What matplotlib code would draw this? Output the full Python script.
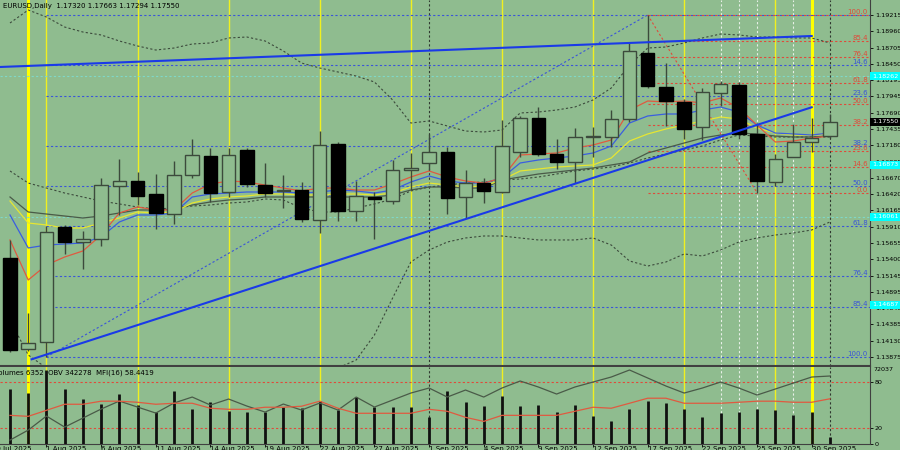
import matplotlib
matplotlib.use('Agg')
import matplotlib.pyplot as plt
import matplotlib.transforms as mtransforms

# EURUSD daily, 30 Jul 2025 .. 1 Oct 2025
opens = [1.15421, 1.14000, 1.14109, 1.15905, 1.15670, 1.15717, 1.16550, 1.16618, 1.16415, 1.16103,
         1.16717, 1.17018, 1.16446, 1.17102, 1.16560, 1.16459, 1.16482, 1.16014, 1.17205, 1.16150,
         1.16378, 1.16306, 1.16795, 1.16909, 1.17076, 1.16368, 1.16587, 1.16456, 1.17080, 1.17602,
         1.17045, 1.16924, 1.17310, 1.17315, 1.17586, 1.18626, 1.18095, 1.17861, 1.17471, 1.18002,
         1.18122, 1.17357, 1.16612, 1.17002, 1.17237, 1.17320]
highs = [1.15702, 1.14562, 1.15920, 1.15936, 1.15842, 1.16670, 1.16966, 1.16763, 1.16732, 1.16940,
         1.17279, 1.17138, 1.17138, 1.17143, 1.16909, 1.16717, 1.16607, 1.17408, 1.17237, 1.16628,
         1.16456, 1.16951, 1.17065, 1.17357, 1.17159, 1.16795, 1.16670, 1.17575, 1.17638, 1.17774,
         1.17279, 1.17446, 1.17471, 1.17732, 1.18778, 1.19215, 1.18470, 1.17903, 1.18075, 1.18184,
         1.18173, 1.17524, 1.17045, 1.17513, 1.17602, 1.17663]
lows = [1.13953, 1.13968, 1.13875, 1.15483, 1.15249, 1.15608, 1.16092, 1.16248, 1.15873, 1.15951,
        1.16670, 1.16295, 1.16373, 1.16529, 1.16373, 1.16201, 1.15987, 1.15811, 1.16003, 1.16003,
        1.15713, 1.16264, 1.16482, 1.16795, 1.16108, 1.16045, 1.16279, 1.16440, 1.17002, 1.17013,
        1.16806, 1.16587, 1.17002, 1.17159, 1.17549, 1.18070, 1.17482, 1.17274, 1.17263, 1.17794,
        1.17274, 1.16440, 1.16545, 1.16995, 1.17080, 1.17294]
closes = [1.13984, 1.14093, 1.15827, 1.15670, 1.15717, 1.16560, 1.16618, 1.16389, 1.16119, 1.16717,
          1.17029, 1.16440, 1.17024, 1.16576, 1.16436, 1.16482, 1.16025, 1.17180, 1.16150, 1.16384,
          1.16347, 1.16799, 1.16831, 1.17076, 1.16362, 1.16592, 1.16462, 1.17169, 1.17602, 1.17045,
          1.16920, 1.17305, 1.17318, 1.17586, 1.18658, 1.18106, 1.17872, 1.17430, 1.18008, 1.18133,
          1.17357, 1.16623, 1.16966, 1.17237, 1.17299, 1.17550]

# moving averages
ma_red = [1.15702, 1.15077, 1.15311, 1.15436, 1.15530, 1.15779, 1.16123, 1.16217, 1.16170, 1.16170,
          1.16435, 1.16576, 1.16623, 1.16607, 1.16560, 1.16513, 1.16467, 1.16513, 1.16513, 1.16482,
          1.16482, 1.16576, 1.16685, 1.16779, 1.16685, 1.16623, 1.16591, 1.16670, 1.17029, 1.17044,
          1.17060, 1.17138, 1.17185, 1.17263, 1.17731, 1.17872, 1.17856, 1.17872, 1.17841, 1.17919,
          1.17763, 1.17497, 1.17232, 1.17247, 1.17294, 1.17325]
ma_blue = [1.16092, 1.15577, 1.15623, 1.15639, 1.15655, 1.15748, 1.15983, 1.16092, 1.16092, 1.16123,
           1.16373, 1.16420, 1.16435, 1.16451, 1.16451, 1.16451, 1.16435, 1.16451, 1.16482, 1.16467,
           1.16435, 1.16482, 1.16607, 1.16701, 1.16623, 1.16591, 1.16591, 1.16670, 1.16904, 1.16951,
           1.16982, 1.17013, 1.17060, 1.17169, 1.17528, 1.17638, 1.17669, 1.17669, 1.17731, 1.17778,
           1.17700, 1.17497, 1.17372, 1.17357, 1.17341, 1.17372]
ma_yellow = [1.16310, 1.15967, 1.15936, 1.15889, 1.15889, 1.15967, 1.16045, 1.16139, 1.16123, 1.16139,
             1.16279, 1.16342, 1.16373, 1.16389, 1.16420, 1.16420, 1.16404, 1.16404, 1.16420, 1.16420,
             1.16404, 1.16435, 1.16529, 1.16591, 1.16560, 1.16529, 1.16545, 1.16638, 1.16779, 1.16810,
             1.16841, 1.16857, 1.16873, 1.16982, 1.17247, 1.17357, 1.17435, 1.17497, 1.17560, 1.17622,
             1.17591, 1.17450, 1.17372, 1.17341, 1.17341, 1.17357]
ma_grey = [1.16373, 1.16139, 1.16107, 1.16076, 1.16045, 1.16076, 1.16123, 1.16170, 1.16170, 1.16186,
           1.16248, 1.16295, 1.16326, 1.16342, 1.16373, 1.16373, 1.16373, 1.16373, 1.16373, 1.16373,
           1.16373, 1.16404, 1.16482, 1.16529, 1.16529, 1.16513, 1.16513, 1.16638, 1.16685, 1.16732,
           1.16763, 1.16795, 1.16826, 1.16873, 1.16919, 1.17060, 1.17138, 1.17216, 1.17294, 1.17341,
           1.17372, 1.17357, 1.17325, 1.17310, 1.17310, 1.17325]

# bollinger bands
bb_upper = [1.19090, 1.19293, 1.19183, 1.19027, 1.18949, 1.18903, 1.18809, 1.18731, 1.18668, 1.18699,
            1.18762, 1.18778, 1.18856, 1.18871, 1.18809, 1.18653, 1.18465, 1.18387, 1.18325, 1.18262,
            1.18169, 1.17888, 1.17528, 1.17560, 1.17482, 1.17403, 1.17388, 1.17419, 1.17685, 1.17700,
            1.17731, 1.17778, 1.17888, 1.18075, 1.18434, 1.18699, 1.18715, 1.18778, 1.18856, 1.18918,
            1.18903, 1.18871, 1.18871, 1.18856, 1.18856, 1.18778]
bb_middle = [1.16779, 1.16591, 1.16513, 1.16435, 1.16373, 1.16310, 1.16264, 1.16217, 1.16186, 1.16201,
             1.16232, 1.16248, 1.16279, 1.16295, 1.16342, 1.16326, 1.16201, 1.16139, 1.16139, 1.16201,
             1.16264, 1.16342, 1.16467, 1.16529, 1.16560, 1.16591, 1.16607, 1.16638, 1.16654, 1.16685,
             1.16732, 1.16779, 1.16810, 1.16841, 1.16904, 1.16982, 1.17044, 1.17107, 1.17169, 1.17263,
             1.17341, 1.17325, 1.17310, 1.17310, 1.17310, 1.17310]
bb_lower = [1.14452, 1.13906, 1.13703, 1.13671, 1.13640, 1.13609, 1.13593, 1.13578, 1.13562, 1.13562,
            1.13578, 1.13593, 1.13609, 1.13624, 1.13640, 1.13640, 1.13640, 1.13671, 1.13703, 1.13828,
            1.14218, 1.14796, 1.15358, 1.15545, 1.15670, 1.15733, 1.15764, 1.15764, 1.15733, 1.15702,
            1.15702, 1.15702, 1.15733, 1.15623, 1.15374, 1.15295, 1.15358, 1.15483, 1.15452, 1.15545,
            1.15670, 1.15733, 1.15779, 1.15811, 1.15858, 1.15983]

# lower window: volumes, OBV, MFI(16)
volumes = [53287, 49340, 72037, 53287, 43419, 38485, 48353, 37498, 30591, 51314,
           33551, 40459, 31578, 30591, 30591, 35525, 34538, 41446, 32564, 45393,
           35525, 35525, 35525, 25657, 51314, 40459, 36512, 46380, 36512, 37498,
           30591, 37498, 26644, 21710, 33551, 41446, 39472, 33551, 25657, 29604,
           30591, 33551, 32564, 27630, 30591, 6352]
obv = [15878, 66878, 138278, 82178, 128078, 173978, 214778, 184178, 153578, 204578,
       235178, 194378, 224978, 189278, 158678, 199478, 168878, 204578, 168878, 235178,
       184178, 219878, 255578, 281078, 235178, 270878, 235178, 281078, 316778, 286178,
       250478, 286178, 311678, 337178, 372878, 332078, 291278, 255578, 281078, 311678,
       281078, 245378, 275978, 306578, 337178, 342278]
mfi = [36.8, 35.5, 43.4, 51.3, 51.3, 55.3, 55.3, 53.9, 51.3, 52.6,
       52.6, 46.1, 44.7, 44.7, 47.4, 47.4, 48.7, 55.3, 46.1, 39.5,
       39.5, 39.5, 39.5, 44.7, 42.1, 34.2, 28.9, 36.8, 36.8, 36.8,
       36.8, 42.1, 47.4, 46.1, 52.6, 59.2, 59.2, 52.6, 52.6, 52.6,
       53.9, 55.3, 55.3, 53.9, 53.9, 58.4419]

# x-axis date labels (bar index -> text)
date_idx = [-1, 2, 5, 8, 11, 14, 17, 20, 23, 26, 29, 32, 35, 38, 41, 44]
date_text = ['29 Jul 2025', '1 Aug 2025', '6 Aug 2025', '11 Aug 2025', '14 Aug 2025', '19 Aug 2025',
             '22 Aug 2025', '27 Aug 2025', '1 Sep 2025', '4 Sep 2025', '9 Sep 2025', '12 Sep 2025',
             '17 Sep 2025', '22 Sep 2025', '25 Sep 2025', '30 Sep 2025']
price_ticks = [1.19215, 1.18960, 1.18705, 1.18450, 1.18195, 1.17945, 1.17690, 1.17435, 1.17180, 1.16925,
               1.16670, 1.16420, 1.16165, 1.15910, 1.15655, 1.15400, 1.15145, 1.14895, 1.14640, 1.14385,
               1.14130, 1.13875]

# objects on the chart
fib_levels = [0.0, 14.6, 23.6, 38.2, 50.0, 61.8, 76.4, 85.4, 100.0]
blue_fib = (2, 1.13875, 35, 1.19215)      # (start bar, low, end bar, high)
red_fib = (35, 1.19215, 41, 1.16440)      # (start bar, high, end bar, low)
upper_trend = (-0.55, 1.18403, 44.0, 1.18887)
lower_trend = (1.19, 1.13839, 44.0, 1.17774)
cyan_levels = [1.18262, 1.16873, 1.16061, 1.14687]
cyan_lines = [1.18262, 1.16061]
yellow_thick = [1, 44]
yellow_thin = [2, 7, 12, 17, 22, 27, 32, 37, 42]
white_dotted = [39, 40, 41, 43]
black_dotted = [23, 45]

BG = '#8fbc8f'
EDGE = '#3c4a3c'
RED = '#e04a3a'
BLUE = '#3a55d8'
DOT = (0, (2, 2))
FS = 5       # chart texts
AFS = 4.6    # price scale

fig = plt.figure(figsize=(9, 4.5), dpi=100, facecolor=BG)
ax = fig.add_axes([0, 84 / 450, 870 / 900, 366 / 450], facecolor=BG)
ax2 = fig.add_axes([0, 6.5 / 450, 870 / 900, 76.5 / 450], facecolor=BG, sharex=ax)

n = len(closes)
xs = list(range(n))
x_lo, x_hi = -0.549, 47.2
ax.set_xlim(x_lo, x_hi)
ax.set_ylim(1.13734, 1.19449)

for a in (ax, ax2):
    for i in yellow_thick:
        a.axvline(i, color='#ffff00', lw=2.2, zorder=1)
    for i in yellow_thin:
        a.axvline(i, color='#f0f020', lw=1.0, zorder=1)
    for i in white_dotted:
        a.axvline(i, color='#e8f0e8', lw=0.8, ls=DOT, zorder=1)
    for i in black_dotted:
        a.axvline(i, color='#303830', lw=0.8, ls=DOT, zorder=1)

# fibonacci levels
b0, b_lo, b1, b_hi = blue_fib
for lv in fib_levels:
    p = b_hi - lv / 100 * (b_hi - b_lo)
    ax.hlines(p, b0, x_hi, color=BLUE, lw=0.8, ls=DOT, zorder=1.5)
    if lv > 0:
        ax.text(0.9975, p, f'{lv:.1f}', transform=ax.get_yaxis_transform(), ha='right',
                va='bottom', fontsize=FS, color=BLUE, zorder=5)
ax.plot([b0, b1], [b_lo, b_hi], color=BLUE, lw=0.8, ls=DOT, zorder=1.5)

r0, r_hi, r1, r_lo = red_fib
for lv in fib_levels:
    p = r_lo + lv / 100 * (r_hi - r_lo)
    ax.hlines(p, r0, x_hi, color=RED, lw=0.8, ls=DOT, zorder=1.6)
    ax.text(0.9975, p, f'{lv:.1f}', transform=ax.get_yaxis_transform(), ha='right',
            va='bottom', fontsize=FS, color=RED, zorder=5)
ax.plot([r0, r1], [r_hi, r_lo], color=RED, lw=0.8, ls=DOT, zorder=1.6)

for p in cyan_lines:
    ax.axhline(p, color='#7fd8c8', lw=0.8, ls=DOT, zorder=1.4)

# bands and moving averages
ax.plot(xs, bb_upper, color='#3c4a3c', lw=0.8, ls=DOT, zorder=2)
ax.plot(xs, bb_middle, color='#3c4a3c', lw=0.8, ls=DOT, zorder=2)
ax.plot(xs, bb_lower, color='#3c4a3c', lw=0.8, ls=DOT, zorder=2)
ax.plot(xs, ma_grey, color='#4a5a48', lw=0.9, zorder=2)
ax.plot(xs, ma_yellow, color='#e6e632', lw=0.9, zorder=2)
ax.plot(xs, ma_blue, color='#3a5ee0', lw=0.9, zorder=2)
ax.plot(xs, ma_red, color='#e05a40', lw=0.9, zorder=2)

# candles
ax.vlines(xs, lows, highs, color=EDGE, lw=1.0, zorder=3)
bottoms = [min(o, c) for o, c in zip(opens, closes)]
heights = [max(abs(c - o), 0.00002) for o, c in zip(opens, closes)]
fills = ['black' if c < o else BG for o, c in zip(opens, closes)]
edges = ['black' if c < o else EDGE for o, c in zip(opens, closes)]
ax.bar(xs, heights, bottom=bottoms, width=0.74, color=fills, edgecolor=edges, lw=1.0, zorder=3.5)

# trend lines
ax.plot([upper_trend[0], upper_trend[2]], [upper_trend[1], upper_trend[3]], color='#1a3ae8', lw=1.5, zorder=4)
ax.plot([lower_trend[0], lower_trend[2]], [lower_trend[1], lower_trend[3]], color='#1a3ae8', lw=1.5, zorder=4)

ax.text(0.003, 0.993, f'EURUSD,Daily  {opens[-1]:.5f} {highs[-1]:.5f} {lows[-1]:.5f} {closes[-1]:.5f}',
        transform=ax.transAxes, ha='left', va='top', fontsize=FS, color='black')

ax.yaxis.tick_right()
ax.set_yticks(price_ticks)
ax.set_yticklabels([f'{p:.5f}' for p in price_ticks])
ax.tick_params(axis='y', labelsize=AFS, length=2.5, pad=1, colors='black', width=0.6)
ax.tick_params(axis='x', bottom=False, labelbottom=False)

for p in cyan_levels:
    ax.text(1.002, p, f'{p:.5f}', transform=ax.get_yaxis_transform(), ha='left', va='center',
            fontsize=AFS, color='white', clip_on=False, zorder=6,
            bbox=dict(boxstyle='square,pad=0.25', fc='#00ffff', ec='none'))
ax.text(1.002, closes[-1], f'{closes[-1]:.5f}', transform=ax.get_yaxis_transform(), ha='left',
        va='center', fontsize=AFS, color='white', clip_on=False, zorder=6,
        bbox=dict(boxstyle='square,pad=0.25', fc='black', ec='none'))

# lower window: volumes under OBV and MFI, vertical markers behind all of them
ax2.set_ylim(0, 100)
ax2.axhline(80, color=RED, lw=0.8, ls=DOT, zorder=1.5)
ax2.axhline(20, color=RED, lw=0.8, ls=DOT, zorder=1.5)
axv = ax2.twinx()
axv.set_ylim(0, 72037 * 76 / 73)
axv.vlines(xs, 0, volumes, color='#101010', lw=2.0, zorder=3)
axo = ax2.twinx()
axo.set_ylim(-1422, 388178)
axo.plot(xs, obv, color='#4a5a48', lw=0.9, zorder=3)
axm = ax2.twinx()
axm.set_ylim(0, 100)
axm.plot(xs, mfi, color='#e05a40', lw=0.9, zorder=3)
for a in (axv, axo, axm):
    a.set_yticks([])
    a.set_facecolor('none')
    for s in a.spines.values():
        s.set_visible(False)

ax2.yaxis.tick_right()
ax2.set_yticks([0, 20, 80])
ax2.tick_params(axis='y', labelsize=AFS, length=2.5, pad=1, width=0.6)
ax2.text(1.004, 0.965, f'{max(volumes)}', transform=ax2.transAxes, ha='left', va='center', fontsize=AFS)
ax2.text(-0.007, 0.965, f'Volumes {volumes[-1]}  OBV {obv[-1]}  MFI(16) {mfi[-1]:.4f}',
         transform=ax2.transAxes, ha='left', va='top', fontsize=FS, clip_on=False)

ax2.set_xticks([i for i in date_idx if i >= 0])
ax2.tick_params(axis='x', length=2, width=0.6, labelbottom=False)
trans = mtransforms.blended_transform_factory(ax2.transData, ax2.transAxes)
for i, t in zip(date_idx, date_text):
    ax2.text(i, -0.03, t, transform=trans, ha='left', va='top', fontsize=FS, clip_on=False)

for a in (ax, ax2):
    for s in a.spines.values():
        s.set_color('#404040')
        s.set_linewidth(0.8)
    a.spines['left'].set_visible(False)
    a.spines['top'].set_visible(False)
ax.spines['bottom'].set_linewidth(1.5)

fig.savefig('out.png', dpi=100, facecolor=BG)
